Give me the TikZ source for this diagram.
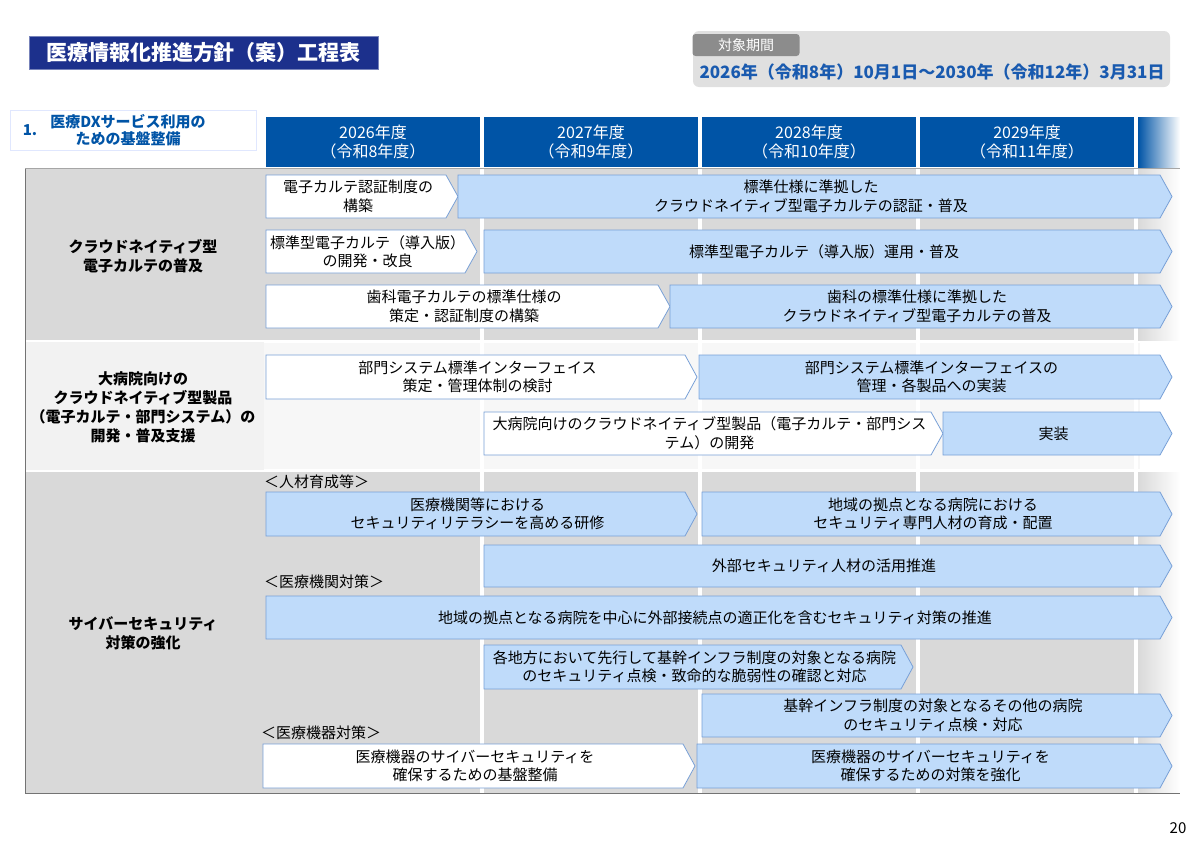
\documentclass[tikz,border=0pt]{standalone}
\usepackage{fontspec}
\setmainfont{Noto Sans CJK JP}
\definecolor{navy}{RGB}{28,48,140}
\definecolor{hdr}{RGB}{0,84,166}
\definecolor{lb}{RGB}{191,219,250}
\definecolor{lbd}{RGB}{120,160,215}
\definecolor{band}{RGB}{217,217,217}
\definecolor{band2}{RGB}{242,242,242}
\definecolor{datec}{RGB}{25,90,175}
\newcommand\chev[6]{%
  \draw[draw=lbd,line width=0.8pt,fill=#5] (#1,#3) -- ({#2-12},#3) -- (#2,{(#3+#4)/2}) -- ({#2-12},#4) -- (#1,#4) -- cycle;
  \node[txt] at ({(#1+#2)/2-4},{(#3+#4)/2}) {#6};}
\begin{document}
\begin{tikzpicture}[x=1pt,y=-1pt,
  txt/.style={font=\fontsize{15}{18.5}\selectfont,align=center,inner sep=0pt},
  lbl/.style={font=\fontsize{15}{19}\selectfont\bfseries,align=center},
  hd/.style={fill=hdr,text=white,font=\fontsize{16}{19}\selectfont,align=center,inner sep=0pt}]
\useasboundingbox[fill=white] (0,0) rectangle (1200,849);
% title
\node[fill=navy,text=white,font=\fontsize{21}{23}\selectfont\bfseries,minimum width=349,minimum height=33,inner sep=0pt,draw=navy!60] (title) at (203.5,52.5) {医療情報化推進方針（案）工程表};
% period
\fill[black!12,rounded corners=6] (693,31) rectangle (1170,87);
\node[fill=black!45,text=white,rounded corners=3,minimum width=107,minimum height=22,inner sep=0pt,font=\fontsize{14}{15}\selectfont] (tab) at (746,45) {対象期間};
\node[text=datec,font=\fontsize{17}{19}\selectfont\bfseries] (date) at (932,72) {2026年（令和8年）10月1日～2030年（令和12年）3月31日};
% section label
\draw[draw=lb!80!blue!30,line width=1pt,fill=white] (10,110) rectangle (256,150);
\node[text=hdr,font=\fontsize{15}{17}\selectfont\bfseries] (n1) at (30,130) {1.};
\node[text=hdr,font=\fontsize{15}{17}\selectfont\bfseries,align=center] (sec) at (128,130) {医療DXサービス利用の\\ための基盤整備};
% headers
\node[hd,minimum width=214,minimum height=50] (h1) at (373,142) {2026年度\\（令和8年度）};
\node[hd,minimum width=214,minimum height=50] (h2) at (591,142) {2027年度\\（令和9年度）};
\node[hd,minimum width=214,minimum height=50] (h3) at (809,142) {2028年度\\（令和10年度）};
\node[hd,minimum width=214,minimum height=50] (h4) at (1027,142) {2029年度\\（令和11年度）};
\shade[left color=hdr,right color=white] (1138,117) rectangle (1180,167);
% bands
\fill[band] (25,168) rectangle (1180,340);
\fill[band2] (25,342) rectangle (1180,470);
\fill[white] (264,342) rectangle (1180,470);
\fill[band] (25,472) rectangle (1180,793);
\fill[band2!60] (264,343) rectangle (1180,469);
\foreach \xx in {482,700,918,1136}{\fill[white] (\xx-2,168) rectangle (\xx+2,793);}
\fill[white] (1140,168) rectangle (1200,793);
\shade[left color=band,right color=white] (1138,168) rectangle (1180,340);
\shade[left color=band,right color=white] (1138,472) rectangle (1180,793);
\fill[band] (25,168) rectangle (262,340);
\fill[band] (25,472) rectangle (262,793);
\draw[black!55,line width=0.8pt] (25,168) -- (25,793) -- (1180,793);
\draw[black!35,line width=0.6pt] (25,168) -- (1180,168);
% left labels
\node[lbl] (l1) at (143,256) {クラウドネイティブ型\\電子カルテの普及};
\node[lbl] (l2) at (143,407) {大病院向けの\\クラウドネイティブ型製品\\（電子カルテ・部門システム）の\\開発・普及支援};
\node[lbl] (l3) at (143,633) {サイバーセキュリティ\\対策の強化};
% rows
\chev{266}{458}{175}{218}{white}{電子カルテ認証制度の\\構築}
\chev{458}{1172}{175}{218}{lb}{標準仕様に準拠した\\クラウドネイティブ型電子カルテの認証・普及}
\chev{266}{477}{230}{273}{white}{標準型電子カルテ（導入版）\\の開発・改良}
\chev{484}{1172}{230}{273}{lb}{標準型電子カルテ（導入版）運用・普及}
\chev{266}{670}{285}{328}{white}{歯科電子カルテの標準仕様の\\策定・認証制度の構築}
\chev{670}{1172}{285}{328}{lb}{歯科の標準仕様に準拠した\\クラウドネイティブ型電子カルテの普及}
\chev{266}{697}{355}{399}{white}{部門システム標準インターフェイス\\策定・管理体制の検討}
\chev{699}{1172}{355}{399}{lb}{部門システム標準インターフェイスの\\管理・各製品への実装}
\chev{484}{943}{412}{455}{white}{大病院向けのクラウドネイティブ型製品（電子カルテ・部門シス\\テム）の開発}
\chev{943}{1172}{412}{455}{lb}{実装}
\node[txt,anchor=west] (s1) at (264,482) {＜人材育成等＞};
\chev{266}{697}{492}{536}{lb}{医療機関等における\\セキュリティリテラシーを高める研修}
\chev{702}{1172}{492}{536}{lb}{地域の拠点となる病院における\\セキュリティ専門人材の育成・配置}
\chev{484}{1172}{545}{587}{lb}{外部セキュリティ人材の活用推進}
\node[txt,anchor=west] (s2) at (264,582) {＜医療機関対策＞};
\chev{266}{1172}{596}{639}{lb}{地域の拠点となる病院を中心に外部接続点の適正化を含むセキュリティ対策の推進}
\chev{484}{913}{645}{689}{lb}{各地方において先行して基幹インフラ制度の対象となる病院\\のセキュリティ点検・致命的な脆弱性の確認と対応}
\chev{702}{1172}{694}{737}{lb}{基幹インフラ制度の対象となるその他の病院\\のセキュリティ点検・対応}
\node[txt,anchor=west] (s3) at (261,733) {＜医療機器対策＞};
\chev{263}{695}{744}{788}{white}{医療機器のサイバーセキュリティを\\確保するための基盤整備}
\chev{697}{1172}{744}{788}{lb}{医療機器のサイバーセキュリティを\\確保するための対策を強化}
\node[font=\fontsize{15}{16}\selectfont] (pg) at (1178,828) {20};
\end{tikzpicture}
\end{document}
